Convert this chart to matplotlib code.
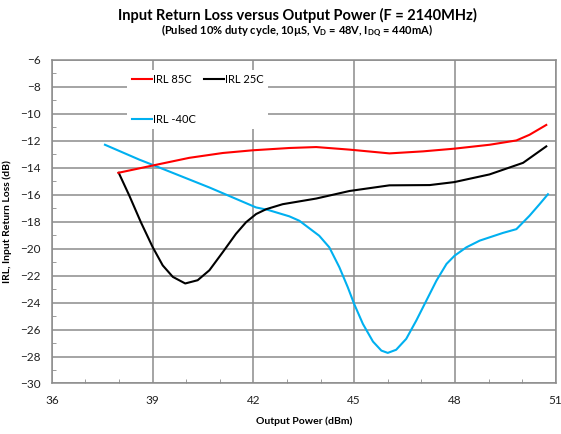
import matplotlib
matplotlib.use('Agg')
import matplotlib.pyplot as plt
from matplotlib.ticker import MultipleLocator

plt.rcParams['font.family'] = ['Lato', 'DejaVu Sans']
plt.rcParams['mathtext.default'] = 'regular'

# IRL 85C
x_85 = [37.98, 39.0, 40.09, 41.09, 41.98, 43.07, 43.87, 44.86, 46.05, 47.05, 47.98,
        49.03, 49.83, 50.22, 50.72]
irl_85 = [-14.37, -13.83, -13.26, -12.9, -12.7, -12.53, -12.46, -12.65, -12.93, -12.78,
          -12.58, -12.29, -11.97, -11.55, -10.82]

# IRL 25C
x_25 = [37.99, 38.31, 38.65, 39.0, 39.3, 39.6, 39.97, 40.34, 40.69, 41.09, 41.48, 41.78,
        42.08, 42.38, 42.87, 43.87, 44.86, 46.05, 47.25, 47.98, 49.03, 50.03, 50.72]
irl_25 = [-14.37, -16.09, -18.04, -19.88, -21.24, -22.09, -22.58, -22.34, -21.6, -20.25,
          -18.9, -18.04, -17.43, -17.07, -16.7, -16.28, -15.72, -15.3, -15.28, -15.06,
          -14.49, -13.63, -12.41]

# IRL -40C
x_m40 = [37.58, 38.6, 39.1, 40.7, 42.08, 42.43, 43.07, 43.37, 43.96, 44.26, 44.56, 44.81,
         45.0, 45.26, 45.56, 45.81, 46.0, 46.25, 46.55, 46.85, 47.15, 47.45, 47.75,
         47.99, 48.34, 48.74, 49.43, 49.83, 50.22, 50.52, 50.77]
irl_m40 = [-12.29, -13.39, -13.88, -15.47, -16.94, -17.12, -17.6, -17.93, -19.04, -19.9,
           -21.38, -22.86, -24.1, -25.58, -26.89, -27.56, -27.73, -27.5, -26.69, -25.33,
           -23.85, -22.37, -21.13, -20.52, -19.9, -19.4, -18.83, -18.55, -17.56, -16.7,
           -15.96]

grid_col = '#8c8c8c'

fig = plt.figure(figsize=(5.61, 4.34), dpi=100)
ax = fig.add_axes([0.0925, 0.1164, 0.898, 0.7454])

ax.plot(x_m40, irl_m40, color='#00b0f0', lw=1.5, label='IRL -40C', zorder=3)
ax.plot(x_25, irl_25, color='black', lw=1.5, label='IRL 25C', zorder=3)
ax.plot(x_85, irl_85, color='#ff0000', lw=1.5, label='IRL 85C', zorder=3)

ax.set_xlim(36, 51)
ax.set_ylim(-30, -6)
ax.xaxis.set_major_locator(MultipleLocator(3))
ax.xaxis.set_minor_locator(MultipleLocator(1))
ax.yaxis.set_major_locator(MultipleLocator(2))
ax.yaxis.set_minor_locator(MultipleLocator(1))
ax.grid(True, which='major', color=grid_col, lw=1.1)
ax.set_axisbelow(True)
for s in ax.spines.values():
    s.set_color(grid_col)
    s.set_linewidth(1.1)
ax.tick_params(which='both', direction='in', colors=grid_col, labelcolor='#202020',
               labelsize=8.5)
ax.tick_params(which='major', length=0, pad=8)
ax.tick_params(which='minor', length=3)

ax.set_xlabel('Output Power (dBm)', fontsize=7.5, fontweight='bold', labelpad=8)
ax.set_ylabel('IRL, Input Return Loss (dB)', fontsize=7.5, fontweight='bold', labelpad=6)

fig.text(0.53, 0.965, 'Input Return Loss versus Output Power (F = 2140MHz)',
         ha='center', va='center', fontsize=10.5, fontweight='bold')
fig.text(0.53, 0.928, r'(Pulsed 10% duty cycle, 10µS, V$_D$ = 48V, I$_{DQ}$ = 440mA)',
         ha='center', va='center', fontsize=8, fontweight='bold')

h, l = ax.get_legend_handles_labels()
order = [2, 0, 1]
leg = ax.legend([h[i] for i in order], [l[i] for i in order], ncol=2,
                loc='upper left', bbox_to_anchor=(0.15, 0.97), fontsize=8,
                frameon=True, fancybox=False, framealpha=1, edgecolor='none',
                facecolor='white', handlelength=1.8, handletextpad=0.1,
                columnspacing=0.7, labelspacing=2.6, borderpad=0.4, borderaxespad=0)
leg.set_zorder(2)

fig.savefig('out.png', dpi=100)
